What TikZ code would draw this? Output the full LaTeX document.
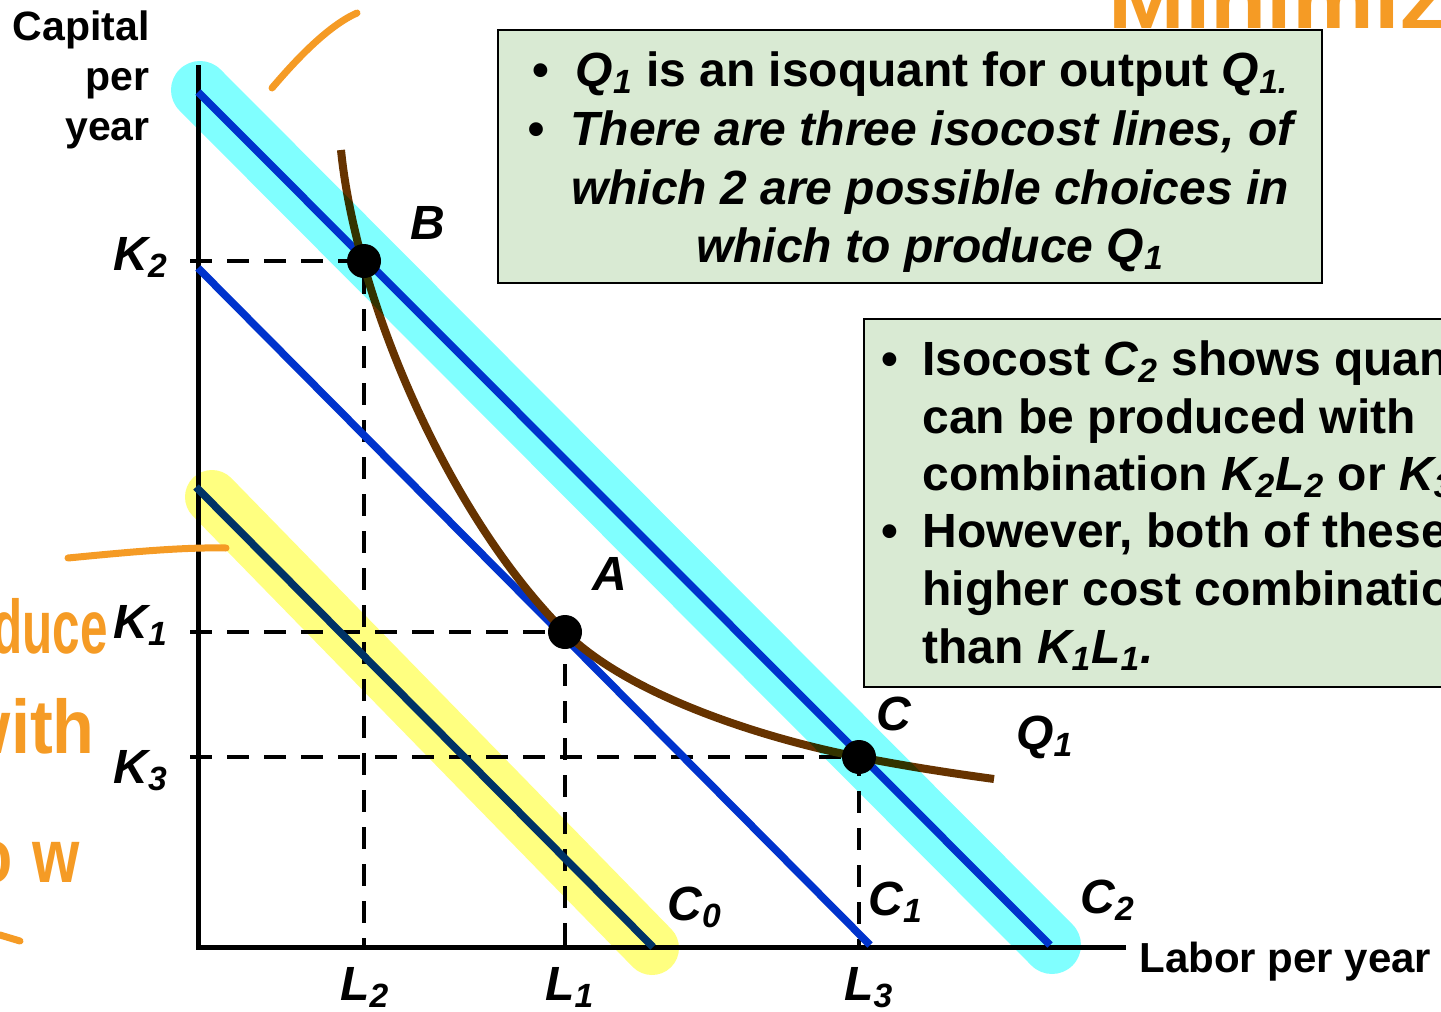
\documentclass[tikz,border=0pt]{standalone}
\usepackage{fontspec}
\usepackage{graphicx}
\setmainfont{Liberation Sans}

\definecolor{costblue}{HTML}{0033CC}
\definecolor{quantbrown}{HTML}{663300}
\definecolor{hlcyan}{HTML}{80FFFF}
\definecolor{hlyellow}{HTML}{FFFF80}
\definecolor{notegreen}{HTML}{D9EAD3}
\definecolor{inkorange}{HTML}{F59B25}

\newcommand{\sbs}[1]{\textsubscript{#1}}

\begin{document}
\begin{tikzpicture}[x=0.5pt, y=-0.5pt,
  axis/.style={line width=2.5pt},
  guide/.style={line width=2.2pt, dash pattern=on 11pt off 7.5pt},
  isocost/.style={costblue, line width=3.8pt},
  isoquant/.style={quantbrown, line width=4pt},
  marker/.style={circle, fill=black, minimum size=17pt, inner sep=0pt},
  pointlbl/.style={font=\fontsize{24}{28}\selectfont\bfseries\itshape, inner sep=0pt, anchor=base west},
  axislbl/.style={font=\fontsize{20.5}{25}\selectfont\bfseries, inner sep=0pt},
  hilite/.style={line width=27pt, line cap=round},
  notebox/.style={draw=black, line width=1.2pt, fill=notegreen},
  notetxt/.style={font=\fontsize{24}{28}\selectfont\bfseries, inner sep=0pt, anchor=base},
  pen/.style={inkorange, line width=3.5pt, line cap=round},
  scrawl/.style={inkorange, font=\fontsize{38}{38}\selectfont\bfseries, inner sep=0pt}
]
  \useasboundingbox (0,0) rectangle (1441,1012);
  \clip (0,0) rectangle (1441,1012);

  % axes
  \coordinate (O) at (198,947);
  \coordinate (ytop) at (198,65);
  \coordinate (xend) at (1126,947);
  \draw[axis] (ytop) -- (O) -- (xend);

  % cost-minimising candidates
  \coordinate (B) at (364,261);
  \coordinate (A) at (565,632);
  \coordinate (C) at (859,757);

  % dashed read-offs to both axes
  \foreach \p in {B,A,C} {
    \draw[guide] ([xshift=-4pt]\p -| O) -- (\p) -- (\p |- O);
  }

  % isocost lines C0, C1, C2
  \coordinate (c0k) at (196,487);  \coordinate (c0l) at (653,947);
  \coordinate (c1k) at (198,268);  \coordinate (c1l) at (870,945);
  \coordinate (c2k) at (198,92);   \coordinate (c2l) at (1050,945);
  \draw[isocost] (c0k) -- (c0l);
  \draw[isocost] (c1k) -- (c1l);
  \draw[isocost] (c2k) -- (c2l);

  % isoquant Q1
  \coordinate (qtop) at (341,150);
  \coordinate (qend) at (994,779);
  \draw[isoquant] (qtop) .. controls (356,300) and (448,515) .. (A)
    .. controls (630,697) and (770,740) .. (C)
    .. controls (905,766) and (950,773) .. (qend);

  \node[marker] (dotB) at (B) {};
  \node[marker] (dotA) at (A) {};
  \node[marker] (dotC) at (C) {};

  % highlighter strokes, multiplied over the drawing
  \begin{scope}[blend mode=multiply]
    \draw[hilite, hlyellow] (212,497) -- (652,948);
    \draw[hilite, hlcyan, line width=29pt] (200,90) -- (1052,945);
  \end{scope}

  % point and line labels
  \node[pointlbl] (lblB) at (410,239) {B};
  \node[pointlbl] (lblA) at (592,590) {A};
  \node[pointlbl] (lblC) at (876,730) {C};
  \node[pointlbl] (lblQ) at (1016,749) {Q\sbs{1}};
  \node[pointlbl] (lblC0) at (667,920) {C\sbs{0}};
  \node[pointlbl] (lblC1) at (868,915) {C\sbs{1}};
  \node[pointlbl] (lblC2) at (1080,913) {C\sbs{2}};
  \node[pointlbl] (lblK2) at (113,270) {K\sbs{2}};
  \node[pointlbl] (lblK1) at (113,638) {K\sbs{1}};
  \node[pointlbl] (lblK3) at (113,783) {K\sbs{3}};
  \node[pointlbl] (lblL2) at (340,1000) {L\sbs{2}};
  \node[pointlbl] (lblL1) at (545,1000) {L\sbs{1}};
  \node[pointlbl] (lblL3) at (844,1000) {L\sbs{3}};

  \node[axislbl, align=right, anchor=base east] (ylbl) at (150,140) {Capital\\per\\year};
  \node[axislbl, anchor=base west, font=\fontsize{21}{25}\selectfont\bfseries] (xlbl) at (1139,972) {Labor per year};

  % note boxes
  \draw[notebox] (498,30) rectangle (1322,283);
  \node[notetxt] (n1a) at (932,86) {\llap{\textbullet\hspace{13pt}}\textit{Q\sbs{1}} is an isoquant for output \textit{Q\sbs{1.}}};
  \node[notetxt] (n1b) at (932,145) {\itshape\llap{\textbullet\hspace{13pt}}There are three isocost lines, of};
  \node[notetxt] (n1c) at (930,204) {\itshape which 2 are possible choices in};
  \node[notetxt] (n1d) at (930,262) {\itshape which to produce Q\sbs{1}};

  \draw[notebox] (864,319) rectangle (1470,687);
  \begin{scope}[every node/.append style={notetxt, anchor=base west}]
    \node (n2a) at (922,375) {\llap{\textbullet\hspace{12pt}}Isocost \textit{C\sbs{2}} shows quantity \textit{Q\sbs{1}}};
    \node (n2b) at (922,433) {can be produced with};
    \node (n2c) at (922,490) {combination \textit{K\sbs{2}L\sbs{2}} or \textit{K\sbs{3}L\sbs{3}}.};
    \node (n2d) at (922,547) {\llap{\textbullet\hspace{12pt}}However, both of these are};
    \node (n2e) at (922,605) {higher cost combinations};
    \node (n2f) at (922,663) {than \textit{K\sbs{1}L\sbs{1}.}};
  \end{scope}

  % handwritten ink
  \draw[pen] (272,88) .. controls (300,55) and (330,25) .. (357,13);
  \draw[pen] (68,558) .. controls (120,553) and (180,547) .. (226,548);
  \draw[pen] (0,935) -- (20,941);
  \node[scrawl, anchor=base east] (hw1) at (108,653) {\scalebox{0.65}[1]{duce}};
  \node[scrawl, anchor=base east] (hw2) at (95,753) {\scalebox{0.9}[1]{with}};
  \node[scrawl, anchor=base east] (hw3) at (80,882) {\scalebox{0.8}[1]{o\kern12pt w}};
  \node[scrawl, anchor=base west, font=\fontsize{40}{40}\selectfont\bfseries] (hw4) at (1108,28) {\scalebox{1.15}[1]{Minimize}};
\end{tikzpicture}
\end{document}
